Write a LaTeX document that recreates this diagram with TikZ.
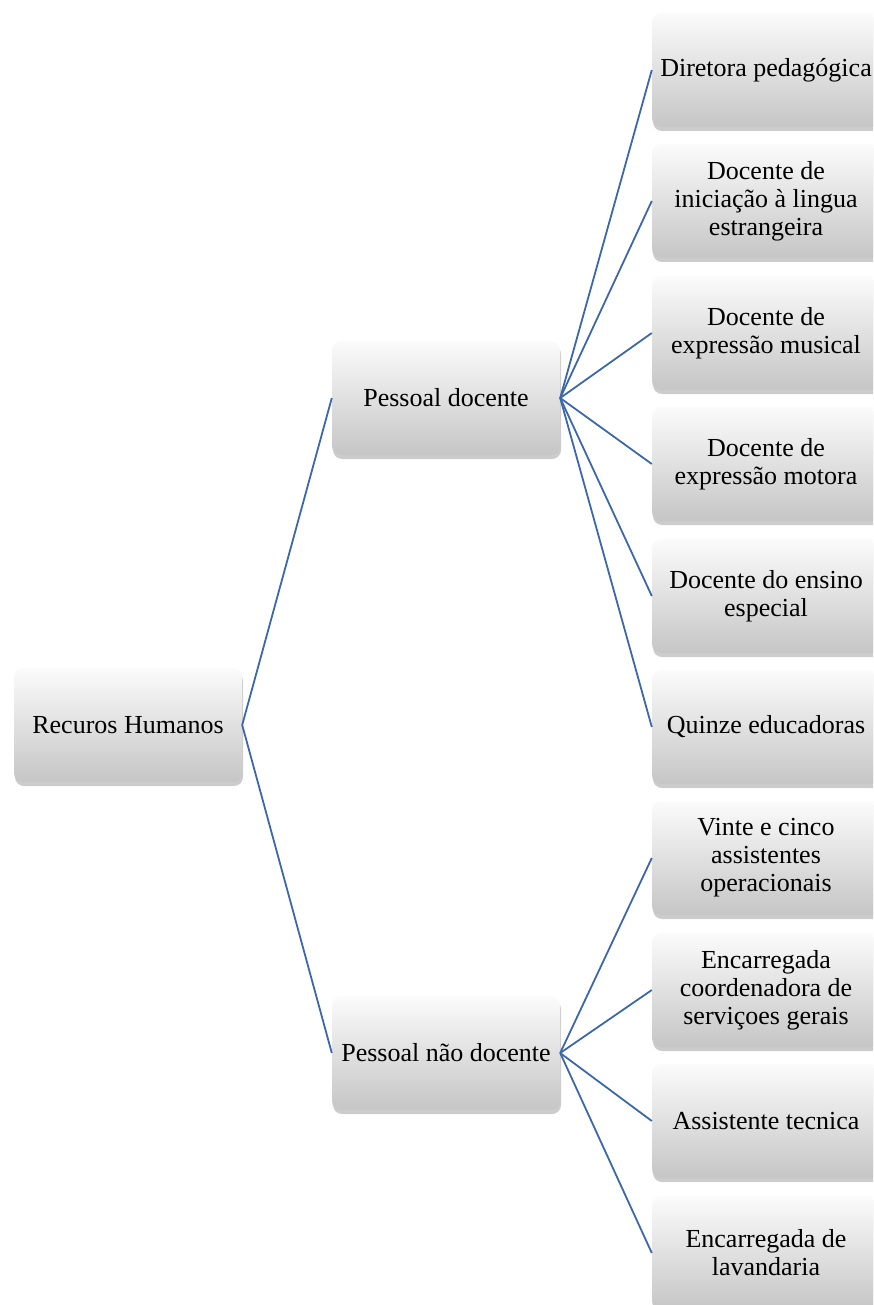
\documentclass[tikz,border=0pt]{standalone}
\usepackage{fontspec}
\setmainfont{Liberation Serif}
\usepackage{tikz}
\usetikzlibrary{shadows}
\definecolor{linkblue}{RGB}{60,104,170}

\begin{document}
\begin{tikzpicture}[x=1pt,y=-1pt,
        box/.style={shape=rectangle,rounded corners=9pt,top color=gray!3,bottom color=gray!45,
            draw=none,minimum width=228pt,minimum height=114pt,align=center,
            font=\fontsize{26}{28}\selectfont,
            drop shadow={shadow xshift=1pt,shadow yshift=-4pt,opacity=0.4,fill=gray}},
        link/.style={draw=linkblue,line width=1.8pt}]
        \clip (0,0) rectangle (873,1305);

        \node[box] (R) at (128,725) {Recuros Humanos};
        \node[box] (P) at (446,398) {Pessoal docente};
        \node[box] (N) at (446,1053) {Pessoal não docente};

        \node[box] (A) at (766,70)   {Diretora pedagógica};
        \node[box] (B) at (766,201)  {Docente de\\iniciação à lingua\\estrangeira};
        \node[box] (C) at (766,333)  {Docente de\\expressão musical};
        \node[box] (D) at (766,464)  {Docente de\\expressão motora};
        \node[box] (E) at (766,596)  {Docente do ensino\\especial};
        \node[box] (F) at (766,727)  {Quinze educadoras};
        \node[box] (G) at (766,858)  {Vinte e cinco\\assistentes\\operacionais};
        \node[box] (H) at (766,990)  {Encarregada\\coordenadora de\\serviçoes gerais};
        \node[box] (I) at (766,1121) {Assistente tecnica};
        \node[box] (J) at (766,1253) {Encarregada de\\lavandaria};

        \path [link](R.east) edge (P.west);
        \path [link](R.east) edge (N.west);
        \path [link](P.east) edge (A.west);
        \path [link](P.east) edge (B.west);
        \path [link](P.east) edge (C.west);
        \path [link](P.east) edge (D.west);
        \path [link](P.east) edge (E.west);
        \path [link](P.east) edge (F.west);
        \path [link](N.east) edge (G.west);
        \path [link](N.east) edge (H.west);
        \path [link](N.east) edge (I.west);
        \path [link](N.east) edge (J.west);
    \end{tikzpicture}
\end{document}
